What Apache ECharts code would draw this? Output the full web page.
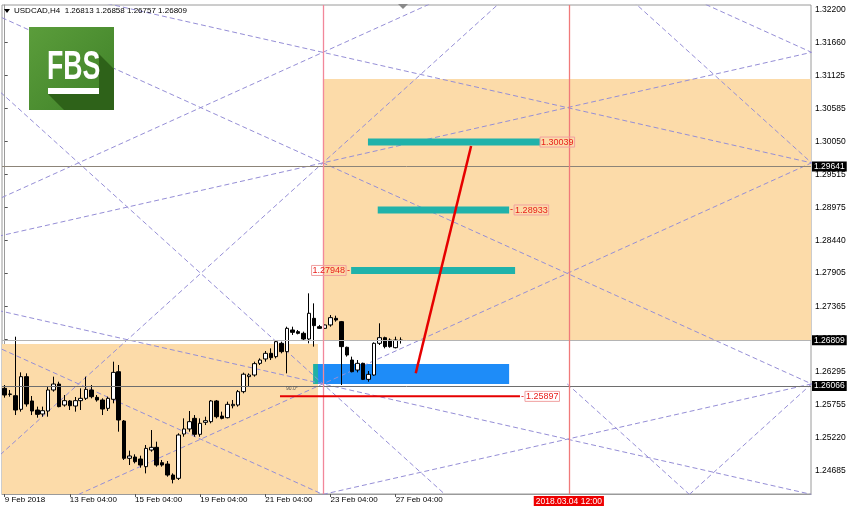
<!DOCTYPE html>
<html><head><meta charset="utf-8">
<script src="https://cdn.jsdelivr.net/npm/echarts@6/dist/echarts.min.js"></script>
<style>html,body{margin:0;padding:0;background:#fff}#c{width:850px;height:508px}</style>
</head><body><div id="c"></div>
<script>
// ---------- DATA ----------
const symbolTitle = 'USDCAD,H4  1.26813 1.26858 1.26757 1.26809';
const opens = [1.26028,1.25935,1.25908,1.25686,1.26218,1.25822,1.25675,1.25610,1.25659,1.26001,
1.26098,1.25756,1.25822,1.25740,1.25827,1.25865,1.26001,1.25881,1.25838,1.25702,
1.25849,1.26299,1.25496,1.24888,1.24909,1.24877,1.24752,1.25023,1.25067,1.24817,
1.24795,1.24616,1.24562,1.25284,1.25366,1.25539,1.25279,1.25474,1.25485,1.25822,
1.25577,1.25550,1.25745,1.25756,1.25974,1.26218,1.26245,1.26435,1.26506,1.26598,
1.26544,1.26761,1.26625,1.26978,1.26951,1.26924,1.26831,1.27168,1.27032,1.27005,
1.27060,1.27168,1.27114,1.26696,1.26489,1.26326,1.26435,1.26174,1.26245,1.26761,
1.26853,1.26815,1.26690,1.26813];
const highs = [1.26082,1.26001,1.26869,1.26288,1.26272,1.25903,1.25730,1.25730,1.26066,1.26218,
1.26136,1.25919,1.25838,1.25887,1.26028,1.26218,1.26082,1.25919,1.25865,1.25892,
1.26462,1.26408,1.25512,1.25013,1.24953,1.24931,1.25105,1.25349,1.25159,1.24861,
1.24844,1.24643,1.25295,1.25539,1.25659,1.25593,1.25539,1.25566,1.25838,1.25838,
1.25648,1.25811,1.25838,1.26001,1.26283,1.26272,1.26462,1.26516,1.26636,1.26679,
1.26815,1.26788,1.27032,1.27032,1.26978,1.26951,1.27575,1.27412,1.27060,1.27070,
1.27222,1.27211,1.27125,1.26707,1.26544,1.26489,1.26446,1.26310,1.26777,1.27087,
1.26869,1.26842,1.26869,1.26858];
const lows = [1.25876,1.25892,1.25593,1.25648,1.25730,1.25593,1.25550,1.25566,1.25566,1.25974,
1.25719,1.25730,1.25675,1.25648,1.25675,1.25838,1.25865,1.25811,1.25593,1.25659,
1.25784,1.25322,1.24861,1.24779,1.24806,1.24735,1.24643,1.24996,1.24752,1.24752,
1.24589,1.24480,1.24535,1.25240,1.25322,1.25240,1.25240,1.25430,1.25458,1.25539,
1.25523,1.25539,1.25702,1.25730,1.25947,1.26055,1.26218,1.26408,1.26462,1.26489,
1.26516,1.26598,1.26272,1.26897,1.26907,1.26815,1.26761,1.26707,1.26994,1.26994,
1.27032,1.27114,1.26082,1.26544,1.26288,1.26288,1.26163,1.26136,1.26234,1.26734,
1.26679,1.26690,1.26679,1.26757];
const closes = [1.25919,1.25930,1.25675,1.26218,1.25773,1.25659,1.25604,1.25664,1.26001,1.26098,
1.25730,1.25827,1.25745,1.25827,1.25865,1.26011,1.25892,1.25838,1.25691,1.25865,
1.26288,1.25512,1.24888,1.24926,1.24833,1.24779,1.25050,1.25067,1.24779,1.24779,
1.24616,1.24545,1.25268,1.25366,1.25485,1.25279,1.25458,1.25501,1.25822,1.25566,
1.25539,1.25767,1.25767,1.25974,1.26258,1.26245,1.26430,1.26489,1.26598,1.26527,
1.26788,1.26625,1.27005,1.26940,1.26924,1.26831,1.27250,1.27049,1.27005,1.27060,
1.27179,1.27141,1.26707,1.26571,1.26299,1.26435,1.26174,1.26256,1.26761,1.26853,
1.26707,1.26707,1.26815,1.26809];

const xTickIdx  = [0, 12, 24, 36, 48, 60, 72];
const xTickText = ['9 Feb 2018','13 Feb 04:00','15 Feb 04:00','19 Feb 04:00','21 Feb 04:00','23 Feb 04:00','27 Feb 04:00'];
const yTicks = [1.32200,1.31660,1.31125,1.30585,1.30050,1.29515,1.28975,1.28440,1.27905,1.27365,1.26830,1.26295,1.25755,1.25220,1.24685];
const yRange = [1.24307, 1.32271];
const slotCount = 149;

// drawing objects: [barIndex, price]
const levelUpper = 1.29641, levelLower = 1.26066, levelBid = 1.26809;
const tealBars = [[66.9, 98.6, 1.30039], [68.7, 92.9, 1.28933], [63.8, 94.0, 1.27948]];
const redLevel = [50.7, 94.9, 1.25897];
const redTrend = [[75.7, 1.26273], [85.9, 1.29975]];
const orangeZones = [[-0.5, 57.7, 1.24307, 1.26750], [58.6, 148.5, 1.26799, 1.31067]];
const blueZone = [57.7, 92.9, 1.26099, 1.26424];
const blueZoneOverlap = [56.8, 57.7, 1.26099, 1.26424];
const vLineA = 58.6, vLineB = 103.9, vLineBText = '2018.03.04 12:00';
const angleText = ['90.0\u00b0', 51.8, 1.26017];
const gannLines = [
  [[-31.4,1.333],[148.6,1.261]],
  [[-31.4,1.333],[148.6,1.297]],
  [[-31.4,1.279],[103.6,1.333]],
  [[-31.4,1.225],[103.6,1.333]],
  [[-31.4,1.279],[148.6,1.315]],
  [[-31.4,1.333],[81.1,1.243]],
  [[-31.4,1.279],[148.6,1.243]],
  [[-31.4,1.279],[58.6,1.243]],
  [[13.6,1.243],[148.6,1.297]],
  [[58.6,1.243],[148.6,1.261]],
  [[103.6,1.333],[148.6,1.297]],
  [[103.6,1.333],[148.6,1.315]],
  [[103.6,1.261],[126.1,1.243]],
  [[126.1,1.243],[148.6,1.261]]
];

// ---------- CHART ----------
const FONT = 'Liberation Sans, Arial, sans-serif';
const tickMap = {};
xTickIdx.forEach((k, i) => tickMap[k] = xTickText[i]);
const cats = Array.from({length: slotCount}, (_, i) => 's' + i);
const candles = opens.map((o, i) => [o, closes[i], lows[i], highs[i]]);

const RED = '#e60000', TEAL = '#20b2aa', ORANGE = '#fcdba9', GANN = '#958ed6';

function tag(text, dash) {
  let fmt = '{b|' + text + '}';
  if (dash === 'before') fmt = '{d|-}' + fmt;
  if (dash === 'after') fmt = fmt + '{d|-}';
  return {
    show: true, formatter: fmt, distance: 0,
    position: dash === 'after' ? 'left' : 'right',
    rich: {
      d: {color: RED, fontSize: 9, fontFamily: FONT, padding: [0, 1, 0, 1]},
      b: {color: '#e8201c', fontSize: 9, fontFamily: FONT, borderColor: '#f0a0a0', borderWidth: 1, padding: [1, 1, 0, 1]}
    }
  };
}
function boxLabel(v, pos, bg) {
  return {show: true, position: pos, distance: pos === 'end' ? 1 : 2, formatter: v, backgroundColor: bg, color: '#fff',
    fontSize: 8.5, fontFamily: FONT, padding: [1, 2, 0, 2]};
}

const series = [];
// zones
series.push({
  type: 'line', xAxisIndex: 1, data: [], z: 1, silent: true,
  markArea: {
    silent: true,
    data: orangeZones.map(z => [{coord: [z[0], z[2]], itemStyle: {color: ORANGE, opacity: 1}}, {coord: [z[1], z[3]]}])
      .concat([
        [{coord: [blueZone[0], blueZone[2]], itemStyle: {color: '#1e8cf8', opacity: 1}}, {coord: [blueZone[1], blueZone[3]]}],
        [{coord: [blueZoneOverlap[0], blueZoneOverlap[2]], itemStyle: {color: '#1fb0a4', opacity: 1}}, {coord: [blueZoneOverlap[1], blueZoneOverlap[3]]}]
      ])
  }
});
// horizontal & vertical levels
series.push({
  type: 'line', xAxisIndex: 1, data: [], z: 2, silent: true,
  markLine: {
    silent: true, symbol: ['none', 'none'], animation: false, precision: 5,
    data: [
      {yAxis: levelBid, lineStyle: {color: '#b4b4b4', width: 1, type: 'solid'}, label: boxLabel(levelBid.toFixed(5), 'end', '#000')},
      {yAxis: levelUpper, lineStyle: {color: '#8c8478', width: 1, type: 'solid'}, label: boxLabel(levelUpper.toFixed(5), 'end', '#000')},
      {yAxis: levelLower, lineStyle: {color: '#6e6e6e', width: 1, type: 'solid'}, label: boxLabel(levelLower.toFixed(5), 'end', '#000')},
      {xAxis: vLineA, lineStyle: {color: '#f2879a', width: 1.3, type: 'solid', opacity: 1}, label: {show: false}},
      {xAxis: vLineB, lineStyle: {color: '#f07a7a', width: 1.3, type: 'solid', opacity: 1}, label: boxLabel(vLineBText, 'start', '#ee0000')}
    ]
  }
});
// gann dashed lines
gannLines.forEach(l => series.push({
  type: 'line', xAxisIndex: 1, data: l, z: 2, silent: true, symbol: 'none', clip: true,
  lineStyle: {color: GANN, width: 1, type: [5, 3]}
}));
// candles
series.push({
  type: 'candlestick', xAxisIndex: 0, data: candles, z: 3, barWidth: 4,
  itemStyle: {color: '#ffffff', color0: '#000000', borderColor: '#000000', borderColor0: '#000000', borderWidth: 1}
});
// teal target bars
const tagModes = ['none', 'before', 'after'];
tealBars.forEach((b, i) => {
  const onLeft = tagModes[i] === 'after';
  series.push({
    type: 'line', xAxisIndex: 1, z: 4, silent: true, symbol: 'none',
    data: [[b[0], b[2]], [b[1], b[2]]],
    lineStyle: {color: TEAL, width: 7, cap: 'butt'},
    markPoint: {
      symbol: 'circle', symbolSize: 0, silent: true,
      data: [{coord: onLeft ? [b[0], b[2]] : [b[1], b[2]], label: tag(b[2].toFixed(5), tagModes[i])}]
    }
  });
});
// red level
series.push({
  type: 'line', xAxisIndex: 1, z: 5, silent: true, symbol: 'none',
  data: [[redLevel[0], redLevel[2]], [redLevel[1], redLevel[2]]],
  lineStyle: {color: RED, width: 2},
  markPoint: {
    symbol: 'circle', symbolSize: 0, silent: true,
    data: [
      {coord: [redLevel[1], redLevel[2]], label: tag(redLevel[2].toFixed(5), 'before')},
      {coord: [angleText[1], angleText[2]], label: {show: true, position: 'right', distance: 0, formatter: angleText[0], color: '#555', fontSize: 5, fontFamily: FONT}}
    ]
  }
});
// red trend
series.push({
  type: 'line', xAxisIndex: 1, z: 6, silent: true, symbol: 'none',
  data: redTrend, lineStyle: {color: RED, width: 2.5}
});

const option = {
  animation: false,
  backgroundColor: '#ffffff',
  grid: {left: 2, right: 39, top: 5, bottom: 14, show: true, borderColor: '#9a9a9a', borderWidth: 1, containLabel: false},
  xAxis: [
    {
      type: 'category', data: cats, boundaryGap: true,
      axisLine: {show: true, lineStyle: {color: '#9a9a9a'}},
      axisTick: {show: true, alignWithLabel: true, length: 3, interval: (i) => tickMap[i] !== undefined, lineStyle: {color: '#555'}},
      axisLabel: {show: true, interval: (i) => tickMap[i] !== undefined, formatter: (v, i) => tickMap[i] || '', align: 'left', margin: 2, color: '#000', fontSize: 8, fontFamily: FONT},
      splitLine: {show: false}
    },
    {type: 'value', min: -0.5, max: slotCount - 0.5, show: false, splitLine: {show: false}}
  ],
  yAxis: {
    type: 'value', position: 'right', min: yRange[0], max: yRange[1], scale: true,
    axisLine: {show: true, lineStyle: {color: '#9a9a9a'}},
    axisTick: {show: true, length: 3, customValues: yTicks, lineStyle: {color: '#555'}},
    axisLabel: {show: true, customValues: yTicks, formatter: v => v.toFixed(5), margin: 4, color: '#000', fontSize: 8.5, fontFamily: FONT},
    splitLine: {show: false}
  },
  graphic: [
    {type: 'polygon', shape: {points: [[4, 9], [10, 9], [7, 13]]}, style: {fill: '#000'}, z: 100},
    {type: 'text', x: 14, y: 11, style: {text: symbolTitle, font: '8px ' + FONT, fill: '#000', verticalAlign: 'middle'}, z: 100},
    {type: 'polygon', shape: {points: [[398, 4], [408, 4], [403, 9]]}, style: {fill: '#8a8a8a'}, z: 100},
    {type: 'rect', shape: {x: 29, y: 27, width: 85, height: 83}, style: {fill: new echarts.graphic.LinearGradient(0, 0, 1, 1, [{offset: 0, color: '#5b9d3b'}, {offset: 1, color: '#3f8128'}])}, z: 100},
    {type: 'polygon', shape: {points: [[99, 54], [114, 69], [114, 110], [64, 110], [48, 94], [99, 94]]}, style: {fill: '#2e6219'}, z: 101},
    {type: 'text', x: 47, y: 68, scaleX: 0.65, style: {text: 'FBS', font: 'bold 41px ' + FONT, fill: '#fff', verticalAlign: 'middle'}, z: 102},
    {type: 'rect', shape: {x: 48, y: 88, width: 51, height: 6}, style: {fill: '#fff'}, z: 102}
  ],
  series: series
};
const chart = echarts.init(document.getElementById('c'));
chart.setOption(option);
</script>
</body></html>
